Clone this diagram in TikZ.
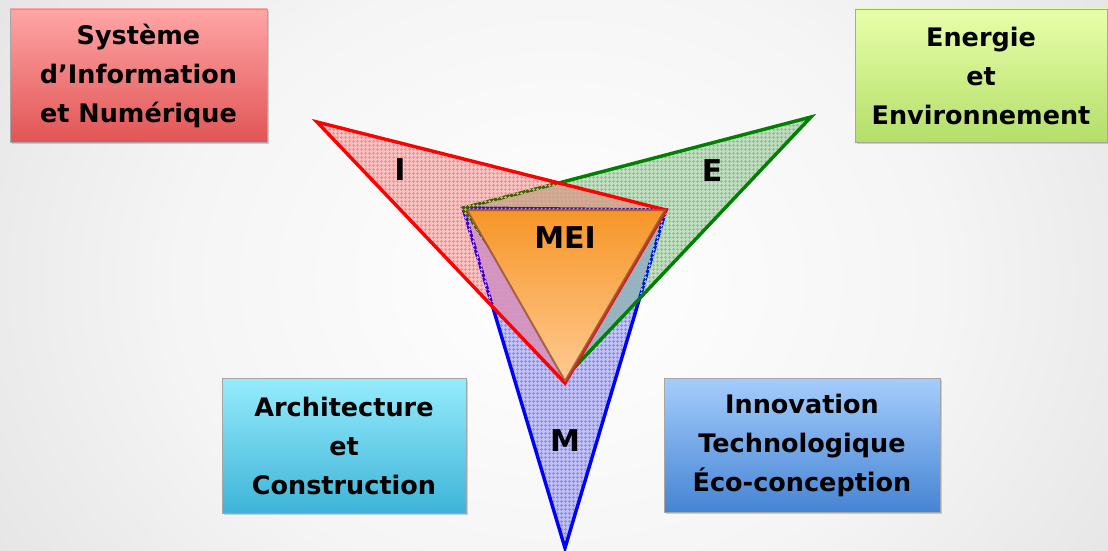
\documentclass[tikz,border=0pt]{standalone}
\usepackage{fontspec}
\setmainfont{DejaVu Sans}
\usetikzlibrary{patterns,patterns.meta,shadows}
\pgfdeclareradialshading{bgshade}{\pgfpoint{0bp}{0bp}}{color(0bp)=(white); color(12bp)=(gray!8); color(35bp)=(gray!40); color(42bp)=(gray!50); color(50bp)=(gray!55)}
\tikzdeclarepattern{name=finegrid, type=uncolored, bounding box={(0pt,0pt) and (4pt,4pt)}, tile size={(4pt,4pt)}, line width=0.5pt,
  code={\draw (0pt,2pt) -- (4pt,2pt); \draw (2pt,0pt) -- (2pt,4pt);}}
\definecolor{redtop}{RGB}{255,165,165}
\definecolor{redbot}{RGB}{225,85,85}
\definecolor{grntop}{RGB}{232,255,170}
\definecolor{grnbot}{RGB}{180,222,105}
\definecolor{cyantop}{RGB}{150,236,252}
\definecolor{cyanbot}{RGB}{62,180,216}
\definecolor{bluetop}{RGB}{165,205,252}
\definecolor{bluebot}{RGB}{70,132,212}
\definecolor{meitop}{RGB}{247,150,40}
\definecolor{meibot}{RGB}{255,202,145}
\definecolor{meiedge}{RGB}{150,82,50}
\definecolor{egreen}{RGB}{0,128,0}
\tikzset{
  x=1pt, y=1pt,
  boxtext/.style={font=\bfseries\fontsize{25.5}{39}\selectfont, align=center, text=black},
  catbox/.style={boxtext, inner sep=0pt, draw=black!35, line width=0.8pt,
     drop shadow={shadow xshift=2pt, shadow yshift=-2pt, opacity=0.35}},
  trilabel/.style={font=\bfseries\fontsize{30}{30}\selectfont, text=black},
  tri/.style={preaction={fill=#1, fill opacity=0.22},
     preaction={pattern={finegrid}, pattern color=#1!45},
     draw=#1, line width=3.4pt, line join=miter}
}
\begin{document}
\begin{tikzpicture}
\useasboundingbox (0,0) rectangle (1108,550);
\shade[shading=bgshade] (-240,-380) rectangle (1360,920);
% triangle corners
\coordinate (mL) at (463,342);
\coordinate (mR) at (666,340);
\coordinate (mB) at (565,2);
\coordinate (eL) at (463,342);
\coordinate (eR) at (811,433);
\coordinate (eB) at (573,181);
\coordinate (iL) at (317,428);
\coordinate (iR) at (666,340);
\coordinate (iB) at (565,167);
\coordinate (oL) at (467,340);
\coordinate (oR) at (665,340);
\coordinate (oB) at (565,169);
% M, E, I triangles
\path[tri=blue] (mL) -- (mR) -- (mB) -- cycle;
\path[tri=egreen] (eL) -- (eR) -- (eB) -- cycle;
\path[tri=red] (iL) -- (iR) -- (iB) -- cycle;
% MEI triangle
\path[top color=meitop, bottom color=meibot, draw=meiedge, draw opacity=0.8, line width=2pt, line join=round,
      drop shadow={shadow xshift=1.5pt, shadow yshift=-1.5pt, opacity=0.3}] (oL) -- (oR) -- (oB) -- cycle;
% labels
\node[trilabel] (lI) at (400,380) {I};
\node[trilabel] (lE) at (712,379) {E};
\node[trilabel] (lMEI) at (565,312) {MEI};
\node[trilabel] (lM) at (565,109) {M};
% boxes
\node[catbox, top color=redtop, bottom color=redbot, minimum width=257pt, minimum height=133pt] (sin) at (138.5,474.5)
  {Système\\d’Information\\et Numérique};
\node[catbox, top color=grntop, bottom color=grnbot, minimum width=252pt, minimum height=133pt] (ee) at (981,474.5)
  {Energie\\et\\Environnement};
\node[catbox, top color=cyantop, bottom color=cyanbot, minimum width=244pt, minimum height=135pt] (ac) at (344,104.5)
  {Architecture\\et\\Construction};
\node[catbox, top color=bluetop, bottom color=bluebot, minimum width=276pt, minimum height=134pt] (itec) at (802,105)
  {Innovation\\Technologique\\Éco-conception};
\end{tikzpicture}
\end{document}
